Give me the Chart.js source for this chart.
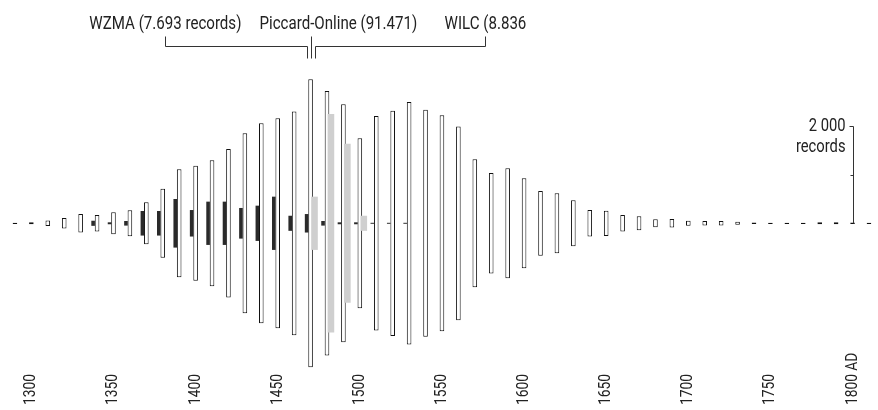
<!DOCTYPE html>
<html><head><meta charset="utf-8">
<script src="https://cdn.jsdelivr.net/npm/chart.js@4.4.1/dist/chart.umd.min.js"></script>
<style>html,body{margin:0;padding:0;background:#fff}#wrap{width:878px;height:410px}</style>
</head><body><div id="wrap"><canvas id="c" width="878" height="410"></canvas></div>
<script>
// ---------- data ----------
const decades = [1290,1300,1310,1320,1330,1340,1350,1360,1370,1380,1390,1400,1410,1420,1430,1440,1450,1460,1470,1480,1490,1500,1510,1520,1530,1540,1550,1560,1570,1580,1590,1600,1610,1620,1630,1640,1650,1660,1670,1680,1690,1700,1710,1720,1730,1740,1750,1760,1770,1780,1790,1800,1810];
const piccardOnline = [25,40,115,215,380,340,450,535,865,1420,2220,2365,2590,3055,3700,4110,4315,4600,5920,5440,4890,3495,4410,4630,4985,4670,4440,3985,2630,2065,2260,1850,1330,1235,945,545,520,340,290,165,175,105,95,95,60,30,25,25,25,40,40,30,25];
const wzma = [0,0,0,0,0,105,40,95,505,505,1000,545,890,890,630,725,1095,310,380,95,40,40,20,20,20,0,0,0,0,0,0,0,0,0,0,0,0,0,0,0,0,0,0,0,0,0,0,0,0,0,0,0,0];
const wilc = [0,0,0,0,0,0,0,0,0,0,0,0,0,0,0,0,0,0,1095,4490,3270,310,0,0,0,0,0,0,0,0,0,0,0,0,0,0,0,0,0,0,0,0,0,0,0,0,0,0,0,0,0,0,0];
const tickYears = [1300,1350,1400,1450,1500,1550,1600,1650,1700,1750,1800];
const tickLabels = ['1300','1350','1400','1450','1500','1550','1600','1650','1700','1750','1800 AD'];
const headerLabels = ['WZMA (7.693 records)','Piccard-Online (91.471)','WILC (8.836'];
const scaleBarTicks = [1000,2000];
const scaleBarLabels = ['2 000','records'];

// ---------- style ----------
const shiftYears = {wzma:-2.4, wilc:2.4};
const INK = '#222';

function hasFont(name){
  const c=document.createElement('canvas').getContext('2d');
  const t='WZMA (7.693 records) 1300';
  c.font='40px monospace'; const a=c.measureText(t).width;
  c.font='40px "'+name+'", monospace'; const b=c.measureText(t).width;
  return Math.abs(a-b)>0.5;
}
const narrow = hasFont('Liberation Sans Narrow');
const FONT = narrow ? '"Liberation Sans Narrow"' : 'Roboto';
const SX = narrow ? 1 : 0.82;

function txt(ctx, s, x, y, size, align, rot){
  ctx.save(); ctx.translate(x,y); if(rot) ctx.rotate(rot); ctx.scale(SX,1);
  ctx.font = size+'px '+FONT; ctx.textAlign=align; ctx.textBaseline='alphabetic';
  ctx.fillStyle=INK; ctx.fillText(s,0,0); ctx.restore();
}
function line(ctx, pts){
  ctx.beginPath();
  pts.forEach((p,i)=>{ const x=Math.round(p[0])+0.5, y=Math.round(p[1])+0.5; i?ctx.lineTo(x,y):ctx.moveTo(x,y); });
  ctx.stroke();
}

function series(vals, shift){
  return decades.map((d,i)=>({x:d+shift, y:[-vals[i]/2, vals[i]/2], v:vals[i]})).filter(p=>p.v>0);
}

const decor = {
  id:'decor',
  afterDraw(chart){
    const ctx=chart.ctx, xs=chart.scales.x, ys=chart.scales.y;
    const X=v=>xs.getPixelForValue(v), Y=v=>ys.getPixelForValue(v);
    // rotated year labels, bottom aligned
    tickYears.forEach((yr,i)=>txt(ctx, tickLabels[i], X(yr)+4, 405, 16.8, 'left', -Math.PI/2));
    // header labels and brackets
    ctx.strokeStyle='#333'; ctx.lineWidth=1;
    const bL=X(1381.6), bLe=X(1468.1), pc=X(1470.5), bRs=X(1473.0), bR=X(1576.5);
    line(ctx, [[bL,36],[bL,46],[bLe,46],[bLe,58]]);
    line(ctx, [[pc,36],[pc,58]]);
    line(ctx, [[bRs,58],[bRs,46],[bR,46],[bR,36]]);
    txt(ctx, headerLabels[0], bL, 28.5, 18.4, 'center');
    txt(ctx, headerLabels[1], pc+27, 28.5, 18.4, 'center');
    txt(ctx, headerLabels[2], bR, 28.5, 18.4, 'center');
    // scale bar
    const sx=X(1800), y0=Y(0);
    line(ctx, [[sx-4,Y(scaleBarTicks[1])],[sx,Y(scaleBarTicks[1])],[sx,y0]]);
    line(ctx, [[sx-3,Y(scaleBarTicks[0])],[sx,Y(scaleBarTicks[0])]]);
    txt(ctx, scaleBarLabels[0], sx-7, Y(scaleBarTicks[1])+4.5, 18, 'right');
    txt(ctx, scaleBarLabels[1], sx-7, Y(scaleBarTicks[1])+25.5, 18, 'right');
  }
};

new Chart(document.getElementById('c'), {
  type:'bar',
  data:{datasets:[
    {label:'WILC', data:series(wilc, shiftYears.wilc), backgroundColor:'#cfcfcf', borderWidth:0, barThickness:6.6, order:0},
    {label:'Piccard-Online', data:series(piccardOnline, 0), backgroundColor:'#ffffff', borderColor:'#111', borderWidth:1, borderSkipped:false, barThickness:4.6, order:1},
    {label:'WZMA', data:series(wzma, shiftYears.wzma), backgroundColor:'#2a2a2a', borderWidth:0, barThickness:3.6, order:2}
  ]},
  options:{
    responsive:false, animation:false, events:[],
    layout:{padding:0},
    datasets:{bar:{grouped:false, inflateAmount:0}},
    plugins:{legend:{display:false}, title:{display:false}, tooltip:{enabled:false}},
    scales:{
      x:{type:'linear', display:false, offset:false, min:1280.9, max:1815.5},
      y:{type:'linear', display:false, min:-3839, max:4591}
    }
  },
  plugins:[decor]
});
</script></body></html>
